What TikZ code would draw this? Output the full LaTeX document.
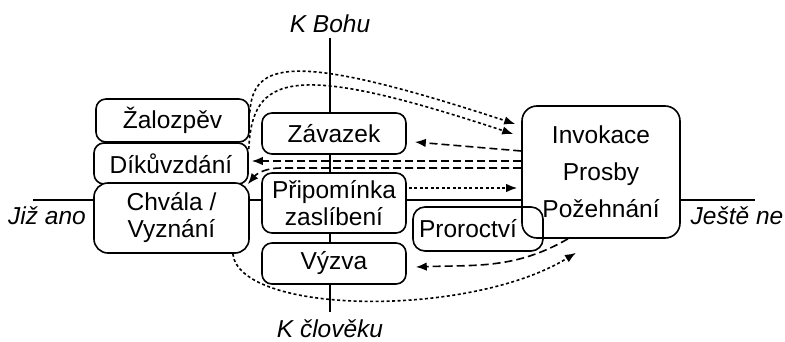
\documentclass[tikz,border=0pt]{standalone}
\usepackage{fontspec}
\setmainfont{Liberation Sans}
\usetikzlibrary{calc,arrows.meta}
\begin{document}
\begin{tikzpicture}[x=1pt,y=-1pt,
  box/.style={draw, line width=1.6pt, rounded corners=10pt, fill=white, inner sep=0pt, align=center, font=\fontsize{24.5}{27}\selectfont},
  axis/.style={line width=1.8pt},
  lbl/.style={font=\fontsize{24.5}{27}\selectfont\itshape, inner sep=0pt},
  dsh/.style={line width=1.6pt, dash pattern=on 8pt off 4pt, -{Latex[length=11pt,width=8.5pt]}},
  dot/.style={line width=1.6pt, dash pattern=on 3pt off 2.5pt, -{Latex[length=11pt,width=8.5pt]}},
]
\useasboundingbox (0,0) rectangle (785,342);
% axes
\coordinate (hl) at (33,200);
\coordinate (hr) at (755,200);
\coordinate (vt) at (330,38);
\coordinate (vb) at (330,312);
\draw[axis] (hl) -- (hr);
\draw[axis] (vt) -- (vb);
% labels
\node[lbl, anchor=base] (kb) at (330,33) {K Bohu};
\node[lbl, anchor=base] (kc) at (330,337) {K člověku};
\node[lbl, anchor=base] (ja) at (47,225) {Již ano};
\node[lbl, anchor=base] (jn) at (737,225) {Ještě ne};
% left boxes
\node[box, minimum width=153pt, minimum height=43pt] (zal) at (172.5,120.5) {Žalozpěv};
\node[box, minimum width=154pt, minimum height=41pt] (dik) at (171,163.5) {Díkůvzdání};
\node[box, rounded corners=14pt, minimum width=155pt, minimum height=70pt] (chv) at (171.5,218) {Chvála /\\Vyznání};
% middle boxes
\node[box, minimum width=144pt, minimum height=41pt] (zav) at (334,133.5) {Závazek};
\node[box, minimum width=144pt, minimum height=60pt] (pri) at (334,203) {Připomínka\\zaslíbení};
\node[box, minimum width=144pt, minimum height=41pt] (vyz) at (334,263.5) {Výzva};
% right boxes
\node[box, rounded corners=15pt, minimum width=158pt, minimum height=132pt] (inv) at (601,172) {Invokace\\[10pt]Prosby\\[10pt]Požehnání};
\node[box, fill=none, rounded corners=12pt, minimum width=130pt, minimum height=44pt, inner xsep=6pt, text width=118pt, align=left] (pro) at (478,229) {Proroctví};
% connectors
\draw[dot] ($(zal.east)+(0,-8)$) .. controls (253,62) and (290,50) .. ($(inv.west)+(-6,-48)$);
\draw[dot] ($(dik.north east)+(0,7)$) .. controls (252,75) and (290,60) .. ($(inv.west)+(-8,-38)$);
\draw[dsh] ($(inv.west)+(0,-21)$) -- ($(zav.east)+(8,8.5)$);
\draw[dsh] ($(inv.west)+(0,-11)$) -- ($(dik.east)+(3,-2.5)$);
\draw[dsh] ($(inv.west)+(0,-4)$) -- ($(dik.east)+(32,4.5)$) to[out=180,in=50] ($(chv.north east)+(-2,2)$);
\draw[dot] ($(pri.east)+(2,-15)$) -- ($(inv.west)+(-4,16)$);
\draw[dsh] ($(inv.south)+(-33,0)$) to[out=210,in=2] ($(vyz.east)+(9,3.5)$);
\draw[dot] ($(chv.south east)+(-17,0)$) .. controls (240,315) and (470,318) .. ($(inv.south)+(-25,14)$);
\end{tikzpicture}
\end{document}
